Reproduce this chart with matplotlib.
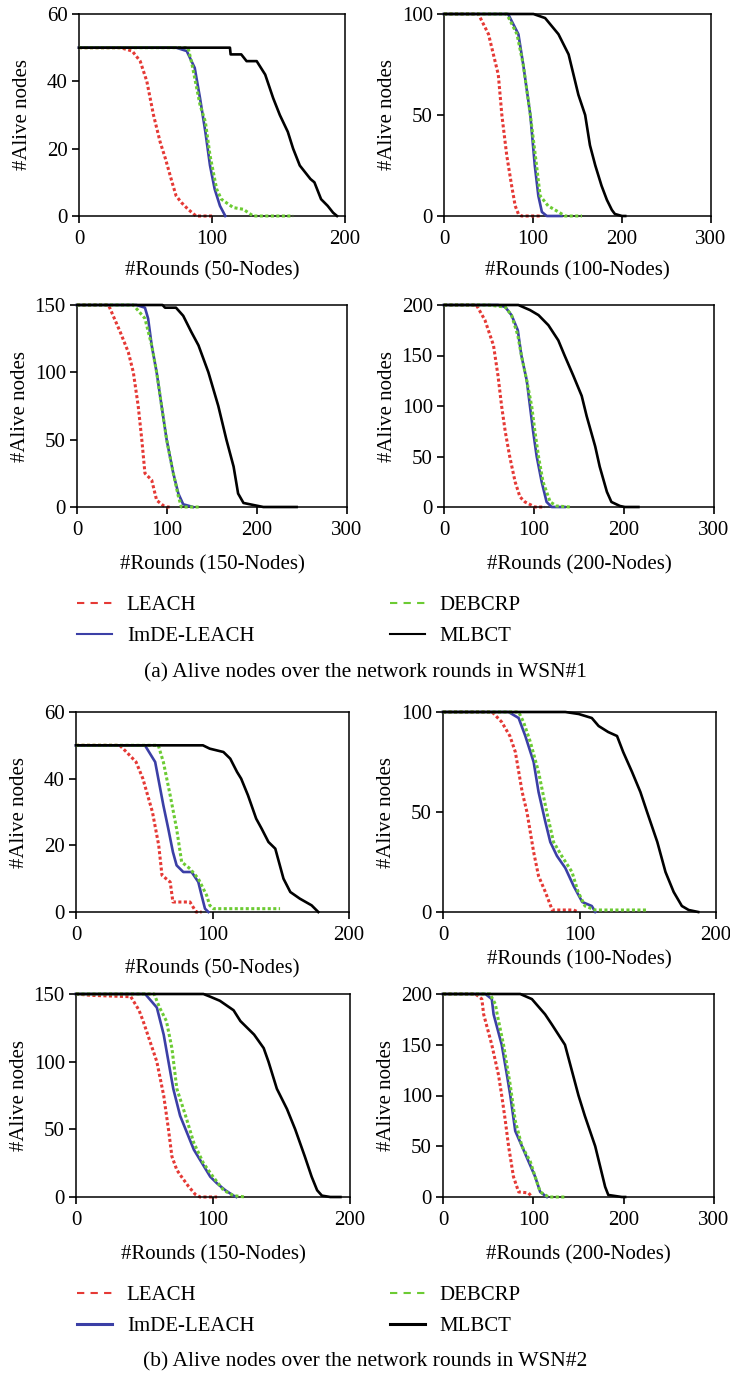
import matplotlib
matplotlib.use('Agg')
import matplotlib.pyplot as plt
from matplotlib.lines import Line2D

plt.rcParams['font.family'] = ['Liberation Serif', 'DejaVu Serif']
plt.rcParams['font.size'] = 15

# ---------------- WSN#1 ----------------
# 50 nodes
a50_leach_x = [0, 31, 40, 46, 51, 56, 61, 65, 70, 73, 77, 82, 88, 101]
a50_leach_y = [50, 50, 49, 46, 40, 30, 22, 17, 10, 6, 4, 2, 0, 0]
a50_imde_x = [0, 73, 81, 87, 91, 95, 98.5, 102, 106, 110]
a50_imde_y = [50, 50, 49, 44, 35, 25, 15, 8, 3, 0]
a50_deb_x = [0, 82, 85, 91, 95, 98.5, 103.5, 107, 116, 123.5, 131, 161]
a50_deb_y = [50, 50, 45, 33, 28, 18, 8, 5, 2.5, 2, 0, 0]
a50_mlb_x = [0, 113.5, 114, 122, 126, 133.6, 140, 146, 151, 157, 161, 166, 174, 177, 182, 187, 191, 194]
a50_mlb_y = [50, 50, 48, 48, 46, 46, 42, 35, 30, 25, 20, 15, 11, 10, 5, 3, 1, 0]

# 100 nodes
a100_leach_x = [0, 38.6, 50, 61, 65, 70.5, 76, 80, 83.6, 87, 108]
a100_leach_y = [100, 100, 90, 70, 50, 30, 15, 5, 1, 0, 0]
a100_imde_x = [0, 72, 83.6, 89, 97, 102, 106, 110, 115.5, 132]
a100_imde_y = [100, 100, 90, 75, 50, 25, 10, 2, 0, 0]
a100_deb_x = [0, 70.5, 82, 89, 97, 104, 108, 117, 128.6, 136, 155]
a100_deb_y = [100, 100, 90, 75, 50, 25, 10, 5, 2, 0, 0]
a100_mlb_x = [0, 100.5, 113.6, 128.6, 140, 145.5, 151, 158.6, 164, 170, 177, 183, 188.6, 192, 200, 203.6]
a100_mlb_y = [100, 100, 98, 90, 80, 70, 60, 50, 35, 25, 15, 8, 3, 1, 0, 0]

# 150 nodes
a150_leach_x = [0, 35, 48, 57, 62.6, 68, 72, 75.5, 83, 88.5, 96, 99.6, 103]
a150_leach_y = [150, 150, 130, 115, 100, 75, 50, 25, 20, 5, 1, 0, 0]
a150_imde_x = [0, 66, 75.5, 79, 83, 88.5, 94, 99.6, 107, 112.6, 118, 129]
a150_imde_y = [150, 150, 148, 140, 120, 100, 75, 50, 25, 10, 2, 0]
a150_deb_x = [0, 62.6, 75.5, 83, 88.5, 94, 99.6, 107, 112.6, 116, 136.7]
a150_deb_y = [150, 150, 140, 120, 100, 75, 50, 25, 8, 0, 0]
a150_mlb_x = [0, 95, 97.8, 110, 118, 127, 135, 146, 157, 166, 174, 179, 185, 199.6, 207, 244]
a150_mlb_y = [150, 150, 148, 148, 142, 130, 120, 100, 75, 50, 30, 10, 3, 1, 0, 0]

# 200 nodes
a200_leach_x = [0, 36, 45.5, 55, 60, 64, 68, 73, 79, 84.4, 90, 101, 112]
a200_leach_y = [200, 200, 185, 160, 130, 100, 75, 50, 25, 10, 5, 0, 0]
a200_imde_x = [0, 60, 68, 75, 82, 86, 92, 95.5, 99, 103, 108.5, 114, 119.6, 134]
a200_imde_y = [200, 200, 198, 190, 175, 150, 125, 100, 75, 50, 25, 5, 0, 0]
a200_deb_x = [0, 49, 68, 75, 82, 86, 92, 97.4, 101, 105, 110, 118, 125, 140]
a200_deb_y = [200, 200, 198, 190, 170, 150, 125, 100, 75, 50, 25, 5, 1, 0]
a200_mlb_x = [0, 82.6, 95.5, 105, 116, 127, 134, 143.7, 153, 158.5, 168, 173, 181, 186, 195.5, 201, 216]
a200_mlb_y = [200, 200, 195, 190, 180, 165, 150, 130, 110, 90, 60, 40, 15, 5, 1, 0, 0]

# ---------------- WSN#2 ----------------
b50_leach_x = [0, 32, 37, 44, 49, 56, 60.6, 63, 69, 71, 83.5, 88, 92]
b50_leach_y = [50, 50, 48, 45, 40, 30, 20, 11, 9, 3, 3, 0, 0]
b50_imde_x = [0, 50.5, 58, 64, 67.6, 71, 73.7, 78.6, 84.7, 89.6, 92, 94.5, 97]
b50_imde_y = [50, 50, 45, 32, 25, 18, 14, 12, 12, 9, 5, 1, 0]
b50_deb_x = [0, 60.3, 64, 69, 73.7, 77.4, 83.5, 89.6, 95.7, 98, 100.6, 149.5]
b50_deb_y = [50, 50, 45, 35, 25, 15, 13, 10, 5, 2, 1, 1]
b50_mlb_x = [0, 93, 98, 108, 113, 118, 121, 126, 132, 136, 141, 146, 152, 157, 164, 172.6, 177.5]
b50_mlb_y = [50, 50, 49, 48, 46, 42, 40, 35, 28, 25, 21, 19, 10, 6, 4, 2, 0]

b100_leach_x = [0, 36, 43, 49, 53, 58, 61.5, 66.4, 70, 75, 80, 95.7, 99]
b100_leach_y = [100, 100, 95, 88, 80, 60, 50, 30, 18, 10, 1, 1, 0]
b100_imde_x = [0, 48, 55.4, 60.3, 66.4, 70, 75, 78.6, 83.5, 89.6, 95.7, 102, 109, 111.6]
b100_imde_y = [100, 100, 97, 88, 75, 60, 45, 35, 28, 22, 13, 5, 3, 0]
b100_deb_x = [0, 55.4, 59, 64, 70, 76, 81, 87, 94.5, 99, 104, 111.6, 149.5]
b100_deb_y = [100, 100, 95, 85, 70, 50, 35, 28, 20, 10, 3, 1, 1]
b100_mlb_x = [0, 89.6, 99.4, 109, 114, 121, 127.5, 132, 138.5, 144.6, 149.5, 157, 163, 169, 175, 180, 187]
b100_mlb_y = [100, 100, 99, 97, 93, 90, 88, 80, 70, 60, 50, 35, 20, 10, 3, 1, 0]

b150_leach_x = [0, 11, 40, 46, 49, 54, 59, 64, 67.5, 70, 73.6, 77, 82, 87, 90.6, 103]
b150_leach_y = [150, 149, 148, 138, 130, 115, 100, 75, 50, 30, 20, 15, 8, 2, 0, 0]
b150_imde_x = [0, 50.5, 59, 64, 67.5, 71, 76, 80, 86, 92, 98, 103, 109, 115, 117]
b150_imde_y = [150, 150, 140, 120, 100, 80, 60, 50, 35, 25, 15, 10, 5, 1, 0]
b150_deb_x = [0, 57, 61, 66, 70, 73.6, 80, 86, 93, 100, 107.7, 115, 123.5]
b150_deb_y = [150, 150, 140, 130, 110, 80, 60, 40, 25, 15, 5, 1, 0]
b150_mlb_x = [0, 93, 98, 105, 115, 120, 130, 137, 140.5, 146.6, 154, 160, 167, 172, 176, 179.5, 185.6, 193]
b150_mlb_y = [150, 150, 148, 145, 138, 130, 120, 110, 100, 80, 65, 50, 30, 15, 5, 1, 0, 0]

b200_leach_x = [0, 36, 43, 45, 54, 61.5, 65, 69, 72.6, 78, 83.7, 94.7, 98.4]
b200_leach_y = [200, 200, 195, 180, 150, 120, 100, 75, 50, 20, 5, 4, 0]
b200_imde_x = [0, 47, 54, 56, 65, 70.8, 74.5, 80, 87.4, 94.7, 102, 107.6, 115]
b200_imde_y = [200, 200, 195, 180, 150, 120, 100, 65, 50, 35, 20, 5, 0]
b200_deb_x = [0, 52, 58, 60, 67, 74.5, 80, 87.4, 96.6, 102, 107.6, 117, 135]
b200_deb_y = [200, 200, 190, 180, 150, 110, 75, 50, 35, 20, 5, 0, 0]
b200_mlb_x = [0, 85.5, 98.4, 113, 120.5, 135, 141, 150, 157, 168.5, 174, 179.5, 183, 198, 201.6]
b200_mlb_y = [200, 200, 195, 180, 170, 150, 130, 100, 80, 50, 30, 10, 2, 0, 0]

names = ['LEACH', 'ImDE-LEACH', 'DEBCRP', 'MLBCT']
colors = ['#e53935', '#3b3fa6', '#6ccb33', 'black']

W, H = 730, 1374
fig = plt.figure(figsize=(W / 100, H / 100), dpi=100)


def add_ax(x0, x1, y0, y1):
    return fig.add_axes([x0 / W, 1 - y1 / H, (x1 - x0) / W, (y1 - y0) / H])


# (pixel box, xmax, xticks, ymax, yticks, label, xlabel pad, series)
panels = [
    ((79, 345, 14, 216), 200, [0, 100, 200], 60, [0, 20, 40, 60], '#Rounds (50-Nodes)', 9,
     [(a50_leach_x, a50_leach_y), (a50_imde_x, a50_imde_y), (a50_deb_x, a50_deb_y), (a50_mlb_x, a50_mlb_y)]),
    ((444, 711, 14, 216), 300, [0, 100, 200, 300], 100, [0, 50, 100], '#Rounds (100-Nodes)', 9,
     [(a100_leach_x, a100_leach_y), (a100_imde_x, a100_imde_y), (a100_deb_x, a100_deb_y), (a100_mlb_x, a100_mlb_y)]),
    ((77, 347, 305, 507), 300, [0, 100, 200, 300], 150, [0, 50, 100, 150], '#Rounds (150-Nodes)', 11,
     [(a150_leach_x, a150_leach_y), (a150_imde_x, a150_imde_y), (a150_deb_x, a150_deb_y), (a150_mlb_x, a150_mlb_y)]),
    ((444, 714, 305, 507), 300, [0, 100, 200, 300], 200, [0, 50, 100, 150, 200], '#Rounds (200-Nodes)', 11,
     [(a200_leach_x, a200_leach_y), (a200_imde_x, a200_imde_y), (a200_deb_x, a200_deb_y), (a200_mlb_x, a200_mlb_y)]),
    ((76, 349, 712, 912), 200, [0, 100, 200], 60, [0, 20, 40, 60], '#Rounds (50-Nodes)', 10,
     [(b50_leach_x, b50_leach_y), (b50_imde_x, b50_imde_y), (b50_deb_x, b50_deb_y), (b50_mlb_x, b50_mlb_y)]),
    ((443, 716, 712, 912), 200, [0, 100, 200], 100, [0, 50, 100], '#Rounds (100-Nodes)', 4,
     [(b100_leach_x, b100_leach_y), (b100_imde_x, b100_imde_y), (b100_deb_x, b100_deb_y), (b100_mlb_x, b100_mlb_y)]),
    ((76, 350, 994, 1197), 200, [0, 100, 200], 150, [0, 50, 100, 150], '#Rounds (150-Nodes)', 11,
     [(b150_leach_x, b150_leach_y), (b150_imde_x, b150_imde_y), (b150_deb_x, b150_deb_y), (b150_mlb_x, b150_mlb_y)]),
    ((443, 714, 994, 1197), 300, [0, 100, 200, 300], 200, [0, 50, 100, 150, 200], '#Rounds (200-Nodes)', 11,
     [(b200_leach_x, b200_leach_y), (b200_imde_x, b200_imde_y), (b200_deb_x, b200_deb_y), (b200_mlb_x, b200_mlb_y)]),
]

for box, xmax, xt, ymax, yt, xlab, xpad, series in panels:
    ax = add_ax(*box)
    for i in range(4):
        xs, ys = series[i]
        if names[i] in ('LEACH', 'DEBCRP'):
            ax.plot(xs, ys, color=colors[i], lw=2.2, ls=(0, (1, 0.8)), clip_on=False, zorder=2 + i)
        else:
            ax.plot(xs, ys, color=colors[i], lw=1.9, clip_on=False, zorder=2 + i)
    ax.set_xlim(0, xmax)
    ax.set_ylim(0, ymax)
    ax.set_xticks(xt)
    ax.set_yticks(yt)
    ax.tick_params(direction='out', length=5, width=1.2, labelsize=15)
    ax.tick_params(axis='x', pad=5)
    ax.tick_params(axis='y', pad=3)
    for s in ax.spines.values():
        s.set_linewidth(1.1)
    ax.set_xlabel(xlab, fontsize=15, labelpad=xpad)
    ax.set_ylabel('#Alive nodes', fontsize=15)
    ax.yaxis.set_label_coords(-47 / (box[1] - box[0]), 0.5)


def make_legend(y_top, lw_solid):
    handles = [
        Line2D([], [], color=colors[0], ls=(0, (3.5, 3)), lw=1.5),
        Line2D([], [], color=colors[1], ls='-', lw=lw_solid),
        Line2D([], [], color=colors[2], ls=(0, (3.5, 3)), lw=1.5),
        Line2D([], [], color=colors[3], ls='-', lw=lw_solid),
    ]
    fig.legend(handles, names, ncol=2, loc='upper left',
               bbox_to_anchor=(58 / W, 1 - y_top / H), frameon=False,
               fontsize=15, handlelength=1.7, handletextpad=0.7,
               columnspacing=6.5, labelspacing=0.55)


make_legend(577, 1.5)
fig.text(0.5, 1 - 673 / H, '(a) Alive nodes over the network rounds in WSN#1',
         ha='center', va='center', fontsize=15.5)
make_legend(1267, 2.2)
fig.text(0.5, 1 - 1362 / H, '(b) Alive nodes over the network rounds in WSN#2',
         ha='center', va='center', fontsize=15.5)

fig.savefig('out.png', dpi=100)
